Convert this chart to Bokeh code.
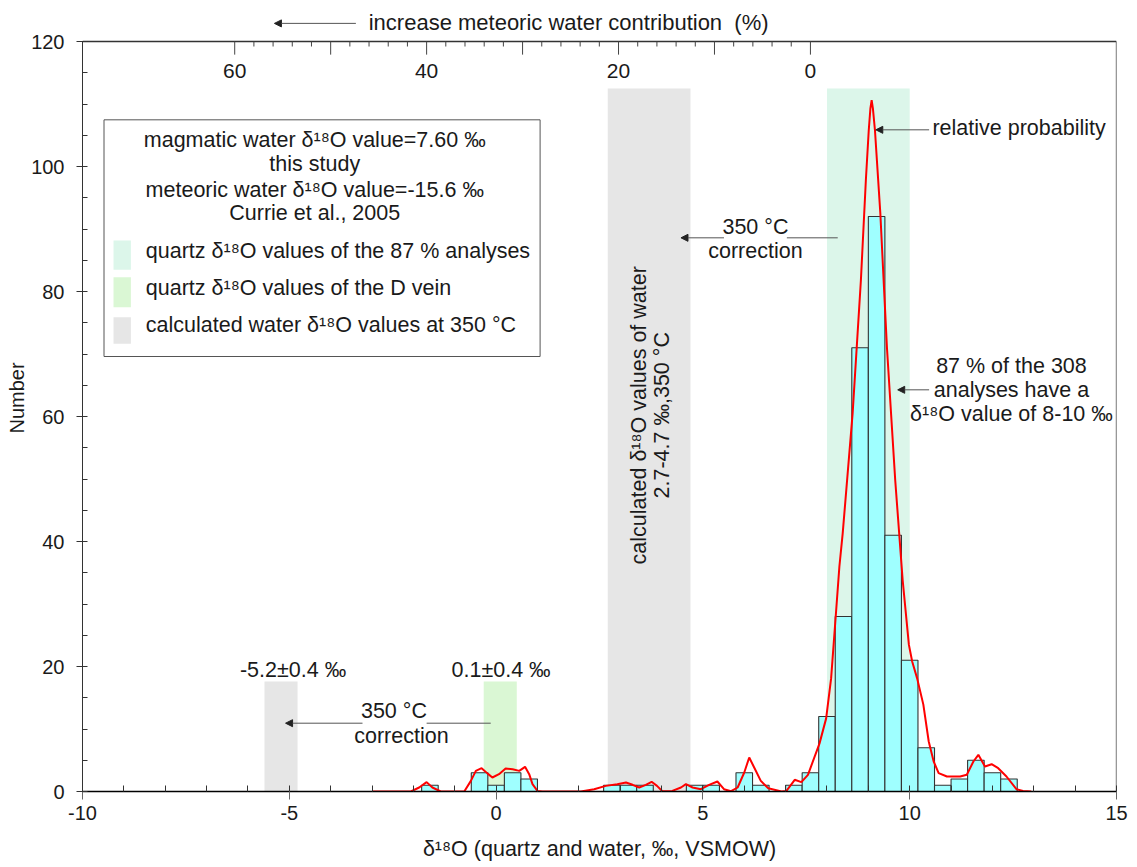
import math
from bokeh.plotting import figure
from bokeh.models import Range1d, FixedTicker, Arrow, NormalHead
from bokeh.embed import file_html
from bokeh.resources import INLINE
from bokeh.core.properties import value

# ---------------- data ----------------
bin_centers = [-1.6, -0.4, 0.0, 0.4, 0.8, 2.8, 3.2, 3.6, 4.8, 5.2, 6.0, 6.4, 7.2, 7.6,
               8.0, 8.4, 8.8, 9.2, 9.6, 10.0, 10.4, 10.8, 11.2, 11.6, 12.0, 12.4]
counts = [1, 3, 1, 3, 2, 1, 1, 1, 1, 1, 3, 1, 1, 3,
          12, 28, 71, 92, 41, 21, 7, 1, 2, 5, 3, 2]
bin_width = 0.4

# relative probability curve
curve_x = [-3.0, -2.06, -1.86, -1.68, -1.54, -1.34, -0.77, -0.61, -0.49, -0.35, -0.21, -0.09,
           0.07, 0.23, 0.4, 0.56, 0.7, 0.8, 0.88, 1.0, 1.12, 2.05, 2.37, 2.65, 2.93, 3.14,
           3.3, 3.46, 3.62, 3.76, 3.89, 4.02, 4.26, 4.47, 4.59, 4.75, 4.95, 5.15, 5.35, 5.51,
           5.68, 5.84, 6.0, 6.12, 6.24, 6.4, 6.58, 6.9, 7.02, 7.22, 7.38, 7.54, 7.82, 7.98,
           8.1, 8.22, 8.3, 8.38, 8.62, 8.82, 8.94, 9.01, 9.05, 9.08, 9.11, 9.16, 9.29, 9.45,
           9.65, 9.83, 9.98, 10.06, 10.18, 10.33, 10.46, 10.58, 10.7, 10.9, 11.22, 11.38,
           11.54, 11.66, 11.82, 11.98, 12.14, 12.34, 12.58, 12.74, 12.94]
curve_y = [0.0, 0.0, 0.64, 1.5, 0.64, 0.0, 0.0, 1.7, 3.3, 3.73, 2.9, 2.24,
           2.77, 3.68, 3.57, 3.3, 3.95, 2.77, 1.17, 0.1, 0.0, 0.0, 0.37, 0.9, 1.17, 1.44,
           1.07, 0.64, 1.07, 1.55, 0.9, 0.05, 0.1, 0.64, 1.17, 0.64, 0.37, 1.07, 1.6, 0.37,
           0.05, 0.64, 3.04, 5.44, 3.84, 1.7, 0.53, 0.0, 0.1, 1.87, 1.5, 2.67, 7.7, 11.7,
           18.1, 28.8, 36.0, 41.3, 60.5, 81.8, 97.8, 105.8, 109.3, 110.6, 109.3, 105.8, 92.5, 71.0,
           49.8, 33.8, 23.5, 20.8, 18.1, 13.9, 8.0, 4.8, 2.93, 2.4, 2.4, 2.67,
           4.8, 5.87, 4.0, 4.37, 3.73, 2.4, 0.37, 0.1, 0.0]

# shaded ranges: centre, half width
band_centers = [-5.2, 0.1, 3.7, 9.0]
band_halfwidths = [0.4, 0.4, 1.0, 1.0]
band_colors = ["#E6E6E6", "#DAF7D4", "#E6E6E6", "#DCF6EA"]
band_tops = [17.6, 17.6, 112.5, 112.5]

# end members for the meteoric-water-contribution scale
magmatic_d18O = 7.60
meteoric_d18O = -15.6
pct_labels = [0, 20, 40, 60]
pct_long = [0, 10, 20, 30, 40, 50, 60]
pct_short = [v for v in range(2, 60, 2) if v % 10 != 0]

x_ticks = [-10, -5, 0, 5, 10, 15]
y_ticks = [0, 20, 40, 60, 80, 100, 120]
x_min, x_max, y_max = -10, 15, 120

FONT = "Liberation Sans"
TXT = "#1a1a1a"
FS = "21.5px"


def mix(pct):
    return magmatic_d18O + (meteoric_d18O - magmatic_d18O) * pct / 100.0


p = figure(width=1130, height=866, x_range=Range1d(x_min, x_max), y_range=Range1d(0, 125.92),
           output_backend="svg", toolbar_location=None,
           min_border_left=82, min_border_right=14, min_border_top=4, min_border_bottom=75)
p.xgrid.visible = False
p.ygrid.visible = False
p.outline_line_color = None
p.background_fill_color = "white"

# bands
p.quad(left=[c - h for c, h in zip(band_centers, band_halfwidths)],
       right=[c + h for c, h in zip(band_centers, band_halfwidths)],
       bottom=0, top=band_tops, fill_color=band_colors, line_color=None)

# histogram
p.vbar(x=bin_centers, top=counts, width=bin_width, bottom=0,
       fill_color="#9FFFFF", line_color="#333333", line_width=1.1)

# curve
p.line(curve_x, curve_y, line_color="#FF0000", line_width=2)

# frame lines (top and right)
p.segment(x0=[x_min, x_max], x1=[x_max, x_max], y0=[y_max, 0], y1=[y_max, y_max],
          line_color="#333333", line_width=1.3)

# axes
xa = p.xaxis[0]
xa.ticker = FixedTicker(ticks=x_ticks, minor_ticks=list(range(-10, 16)))
xa.major_label_overrides = {t: str(t) for t in x_ticks}
xa.major_tick_out = 8
xa.major_tick_in = 4
xa.minor_tick_in = 6
xa.minor_tick_out = 0
xa.axis_line_color = "black"
xa.axis_line_width = 1.5
xa.major_tick_line_color = "#666666"
xa.minor_tick_line_color = "#333333"
xa.major_label_text_font = FONT
xa.major_label_text_font_size = "20px"
xa.major_label_text_color = TXT
xa.major_label_standoff = 6
xa.axis_label = "δ¹⁸O (quartz and water, ‰, VSMOW)"
xa.axis_label_text_font = FONT
xa.axis_label_text_font_size = "21.5px"
xa.axis_label_text_font_style = "normal"
xa.axis_label_text_color = TXT
xa.axis_label_standoff = 14

ya = p.yaxis[0]
ya.bounds = (0, y_max)
ya.ticker = FixedTicker(ticks=y_ticks, minor_ticks=list(range(0, 121, 5)))
ya.major_tick_out = 6
ya.major_tick_in = 2
ya.minor_tick_in = 5
ya.minor_tick_out = 0
ya.axis_line_color = "#333333"
ya.major_tick_line_color = "#333333"
ya.minor_tick_line_color = "#333333"
ya.major_label_text_font = FONT
ya.major_label_text_font_size = "20px"
ya.major_label_text_color = TXT
ya.major_label_standoff = 12
ya.axis_label = "Number"
ya.axis_label_text_font = FONT
ya.axis_label_text_font_size = "20px"
ya.axis_label_text_font_style = "normal"
ya.axis_label_text_color = TXT
ya.axis_label_standoff = 0


def txt(x, y, s, align="center", size=FS, angle=0.0):
    p.text(x=[x], y=[y], text=[s], text_font=value(FONT), text_font_size=size,
           text_align=align, text_baseline="middle", text_color=TXT, angle=angle)


def arrow(x0, x1, y):
    p.add_layout(Arrow(end=NormalHead(size=7, fill_color="#222222", line_color="#222222"),
                       x_start=x0, y_start=y, x_end=x1, y_end=y,
                       line_color="#555555", line_width=1))


# top meteoric contribution scale (inside the frame)
p.segment(x0=[mix(v) for v in pct_long], x1=[mix(v) for v in pct_long],
          y0=y_max, y1=117.9, line_color="#444444", line_width=1)
p.segment(x0=[mix(v) for v in pct_short], x1=[mix(v) for v in pct_short],
          y0=y_max, y1=119.2, line_color="#444444", line_width=1)
p.text(x=[mix(v) for v in pct_labels], y=115.23, text=[str(v) for v in pct_labels],
       text_font=value(FONT), text_font_size="21px", text_align="center",
       text_baseline="middle", text_color=TXT)

txt(-3.08, 123.07, "increase meteoric water contribution\u00a0\u00a0(%)", align="left", size="22px")
arrow(-3.39, -5.36, 122.9)

# band labels
txt(-4.91, 19.44, "-5.2±0.4 ‰")
txt(0.12, 19.44, "0.1±0.4 ‰")

# left 350 C correction
arrow(-3.23, -5.09, 10.93)
p.segment(x0=[-1.68], x1=[-0.13], y0=[10.93], y1=[10.93], line_color="#555555", line_width=1)
txt(-2.47, 12.88, "350 °C")
txt(-2.29, 8.93, "correction")

# middle 350 C correction
arrow(5.51, 4.47, 88.59)
p.segment(x0=[7.03], x1=[8.26], y0=[88.59], y1=[88.59], line_color="#555555", line_width=1)
txt(6.27, 90.32, "350 °C")
txt(6.27, 86.48, "correction")

# relative probability
arrow(10.47, 9.18, 105.87)
txt(10.55, 106.21, "relative probability", align="left")

# 87 %
arrow(10.47, 9.71, 64.27)
txt(12.46, 68.08, "87 % of the 308")
txt(12.46, 64.18, "analyses have a")
txt(12.46, 60.45, "δ¹⁸O value of 8-10 ‰")

# rotated text in grey band
txt(3.45, 60.2, "calculated δ¹⁸O values of water", angle=math.pi / 2)
txt(4.0, 60.2, "2.7-4.7 ‰,350 °C", angle=math.pi / 2)

# legend box
p.quad(left=[-9.48], right=[1.064], bottom=[69.6], top=[107.47],
       fill_color="white", line_color="#555555", line_width=1)
txt(-4.385, 104.25, "magmatic water δ¹⁸O value=7.60 ‰")
txt(-4.385, 100.45, "this study")
txt(-4.385, 96.25, "meteoric water δ¹⁸O value=-15.6 ‰")
txt(-4.385, 92.5, "Currie et al., 2005")
p.quad(left=[-9.25] * 3, right=[-8.83] * 3, bottom=[83.47, 77.49, 71.63], top=[88.16, 82.29, 75.89],
       fill_color=["#DCF6EA", "#DAF7D4", "#E6E6E6"], line_color=None)
txt(-8.47, 86.48, "quartz δ¹⁸O values of the 87 % analyses", align="left")
txt(-8.47, 80.5, "quartz δ¹⁸O values of the D vein", align="left")
txt(-8.47, 74.58, "calculated water δ¹⁸O values at 350 °C", align="left")

open("out.html", "w").write(file_html(p, INLINE))
